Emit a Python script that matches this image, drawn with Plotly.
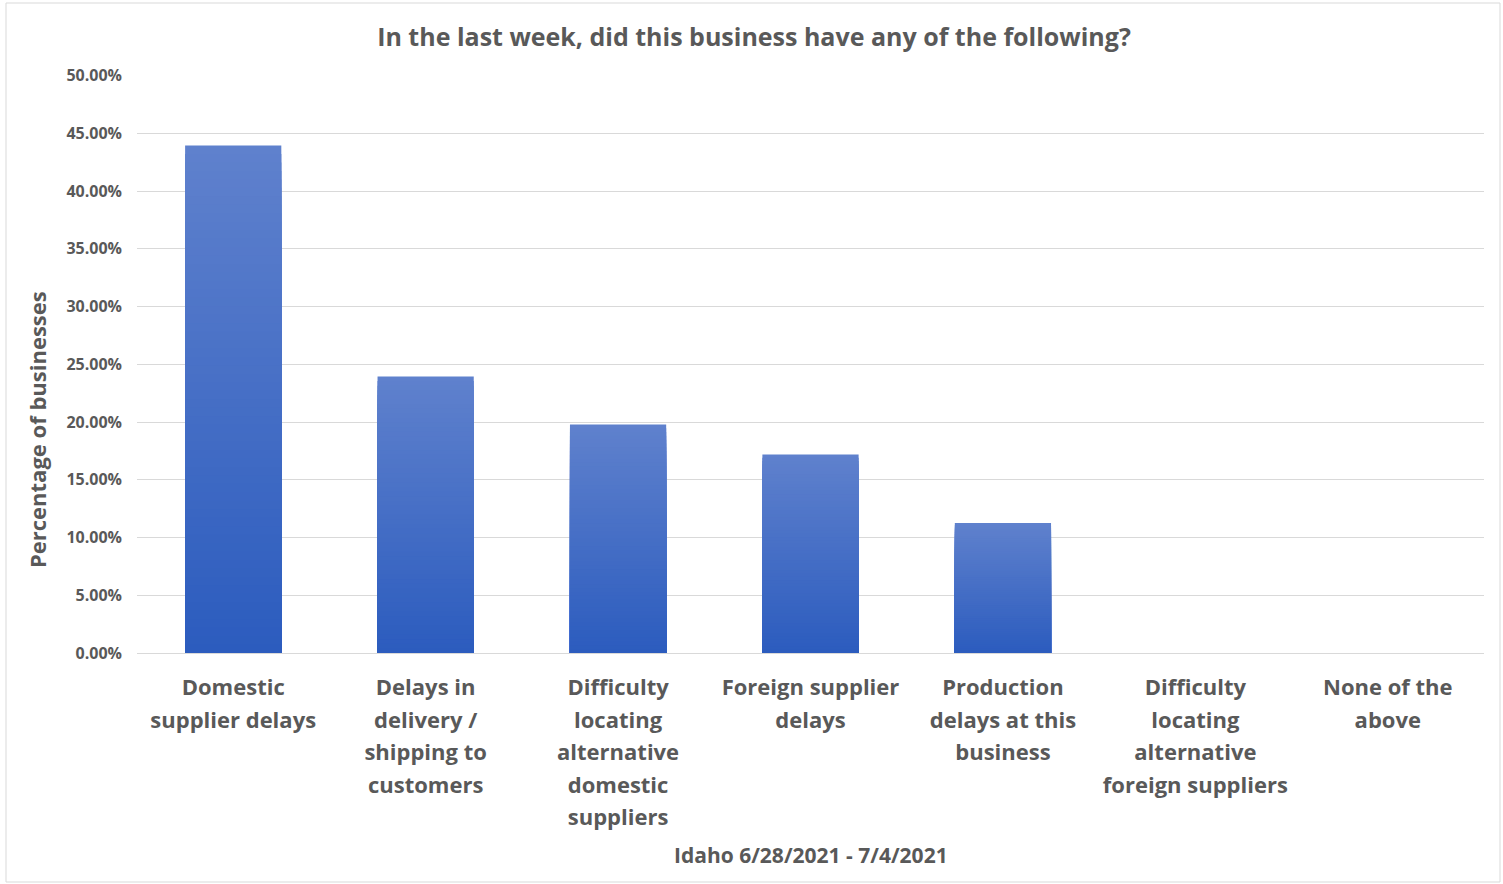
import plotly.graph_objects as go

# Survey categories and share of businesses (fractions)
categories = [
    "Domestic<br>supplier delays",
    "Delays in<br>delivery /<br>shipping to<br>customers",
    "Difficulty<br>locating<br>alternative<br>domestic<br>suppliers",
    "Foreign supplier<br>delays",
    "Production<br>delays at this<br>business",
    "Difficulty<br>locating<br>alternative<br>foreign suppliers",
    "None of the<br>above",
]
values = [0.4395, 0.2395, 0.198, 0.172, 0.1125, 0.0, 0.0]
y_ticks = [0.0, 0.05, 0.10, 0.15, 0.20, 0.25, 0.30, 0.35, 0.40, 0.45, 0.50]

TEXT = "#595959"
FONT = "Open Sans"
TOP_RGB = (95, 129, 205)
BOTTOM_RGB = (44, 92, 190)
N_LAYERS = 60

fig = go.Figure()

# Vertical gradient inside each bar: overlaid bars of shrinking height,
# light at the top of each bar, darker toward the base.
for k in range(N_LAYERS):
    t = k / (N_LAYERS - 1)
    r, g, b = (round(TOP_RGB[i] + (BOTTOM_RGB[i] - TOP_RGB[i]) * t) for i in range(3))
    frac = (N_LAYERS - k) / N_LAYERS
    fig.add_trace(go.Bar(
        x=list(range(len(categories))),
        y=[v * frac for v in values],
        marker=dict(color=f"rgb({r},{g},{b})", line=dict(width=0)),
        hoverinfo="skip",
        showlegend=False,
    ))

tick_text = [f'<span style="font-size:22px">{c}</span>' for c in categories]

fig.update_layout(
    width=1503,
    height=884,
    barmode="overlay",
    bargap=0.5,
    paper_bgcolor="white",
    plot_bgcolor="white",
    margin=dict(l=137, r=19, t=75, b=231),
    font=dict(family=FONT, color=TEXT),
    title=dict(
        text="In the last week, did this business have any of the following?",
        x=754 / 1503, xref="container", xanchor="center",
        y=1 - 37 / 884, yref="container", yanchor="middle",
        font=dict(family=FONT, size=25, color=TEXT, weight="bold"),
    ),
    xaxis=dict(
        tickmode="array",
        tickvals=list(range(len(categories))),
        ticktext=tick_text,
        range=[-0.5, len(categories) - 0.5],
        tickfont=dict(family=FONT, size=25, color=TEXT, weight="bold"),
        ticks="",
        showgrid=False,
        showline=False,
        zeroline=False,
        ticklabelstandoff=16,
    ),
    yaxis=dict(
        range=[0, 0.5006],
        tickmode="array",
        tickvals=y_ticks,
        tickformat=".2%",
        tickfont=dict(family=FONT, size=16, color=TEXT, weight="bold"),
        showgrid=True,
        gridcolor="#d9d9d9",
        gridwidth=1,
        zeroline=True,
        zerolinecolor="#d9d9d9",
        zerolinewidth=1,
        showline=False,
        ticks="",
        ticklabelstandoff=14,
    ),
    shapes=[
        dict(
            type="rect", xref="paper", yref="paper",
            x0=(6 - 137) / 1347, x1=(1500 - 137) / 1347,
            y0=(653 - 882) / 578, y1=(653 - 3) / 578,
            line=dict(color="#d9d9d9", width=1),
            fillcolor="rgba(0,0,0,0)",
            layer="below",
        )
    ],
    annotations=[
        dict(
            text="Percentage of businesses",
            textangle=-90,
            xref="paper", yref="paper",
            x=(37 - 137) / 1347, y=(653 - 430) / 578,
            xanchor="center", yanchor="middle",
            showarrow=False,
            font=dict(family=FONT, size=22, color=TEXT, weight="bold"),
        ),
        dict(
            text="Idaho 6/28/2021 - 7/4/2021",
            xref="paper", yref="paper",
            x=0.5, y=(653 - 855) / 578,
            xanchor="center", yanchor="middle",
            showarrow=False,
            font=dict(family=FONT, size=21, color=TEXT, weight="bold"),
        ),
    ],
)

fig.write_html("out.html")
